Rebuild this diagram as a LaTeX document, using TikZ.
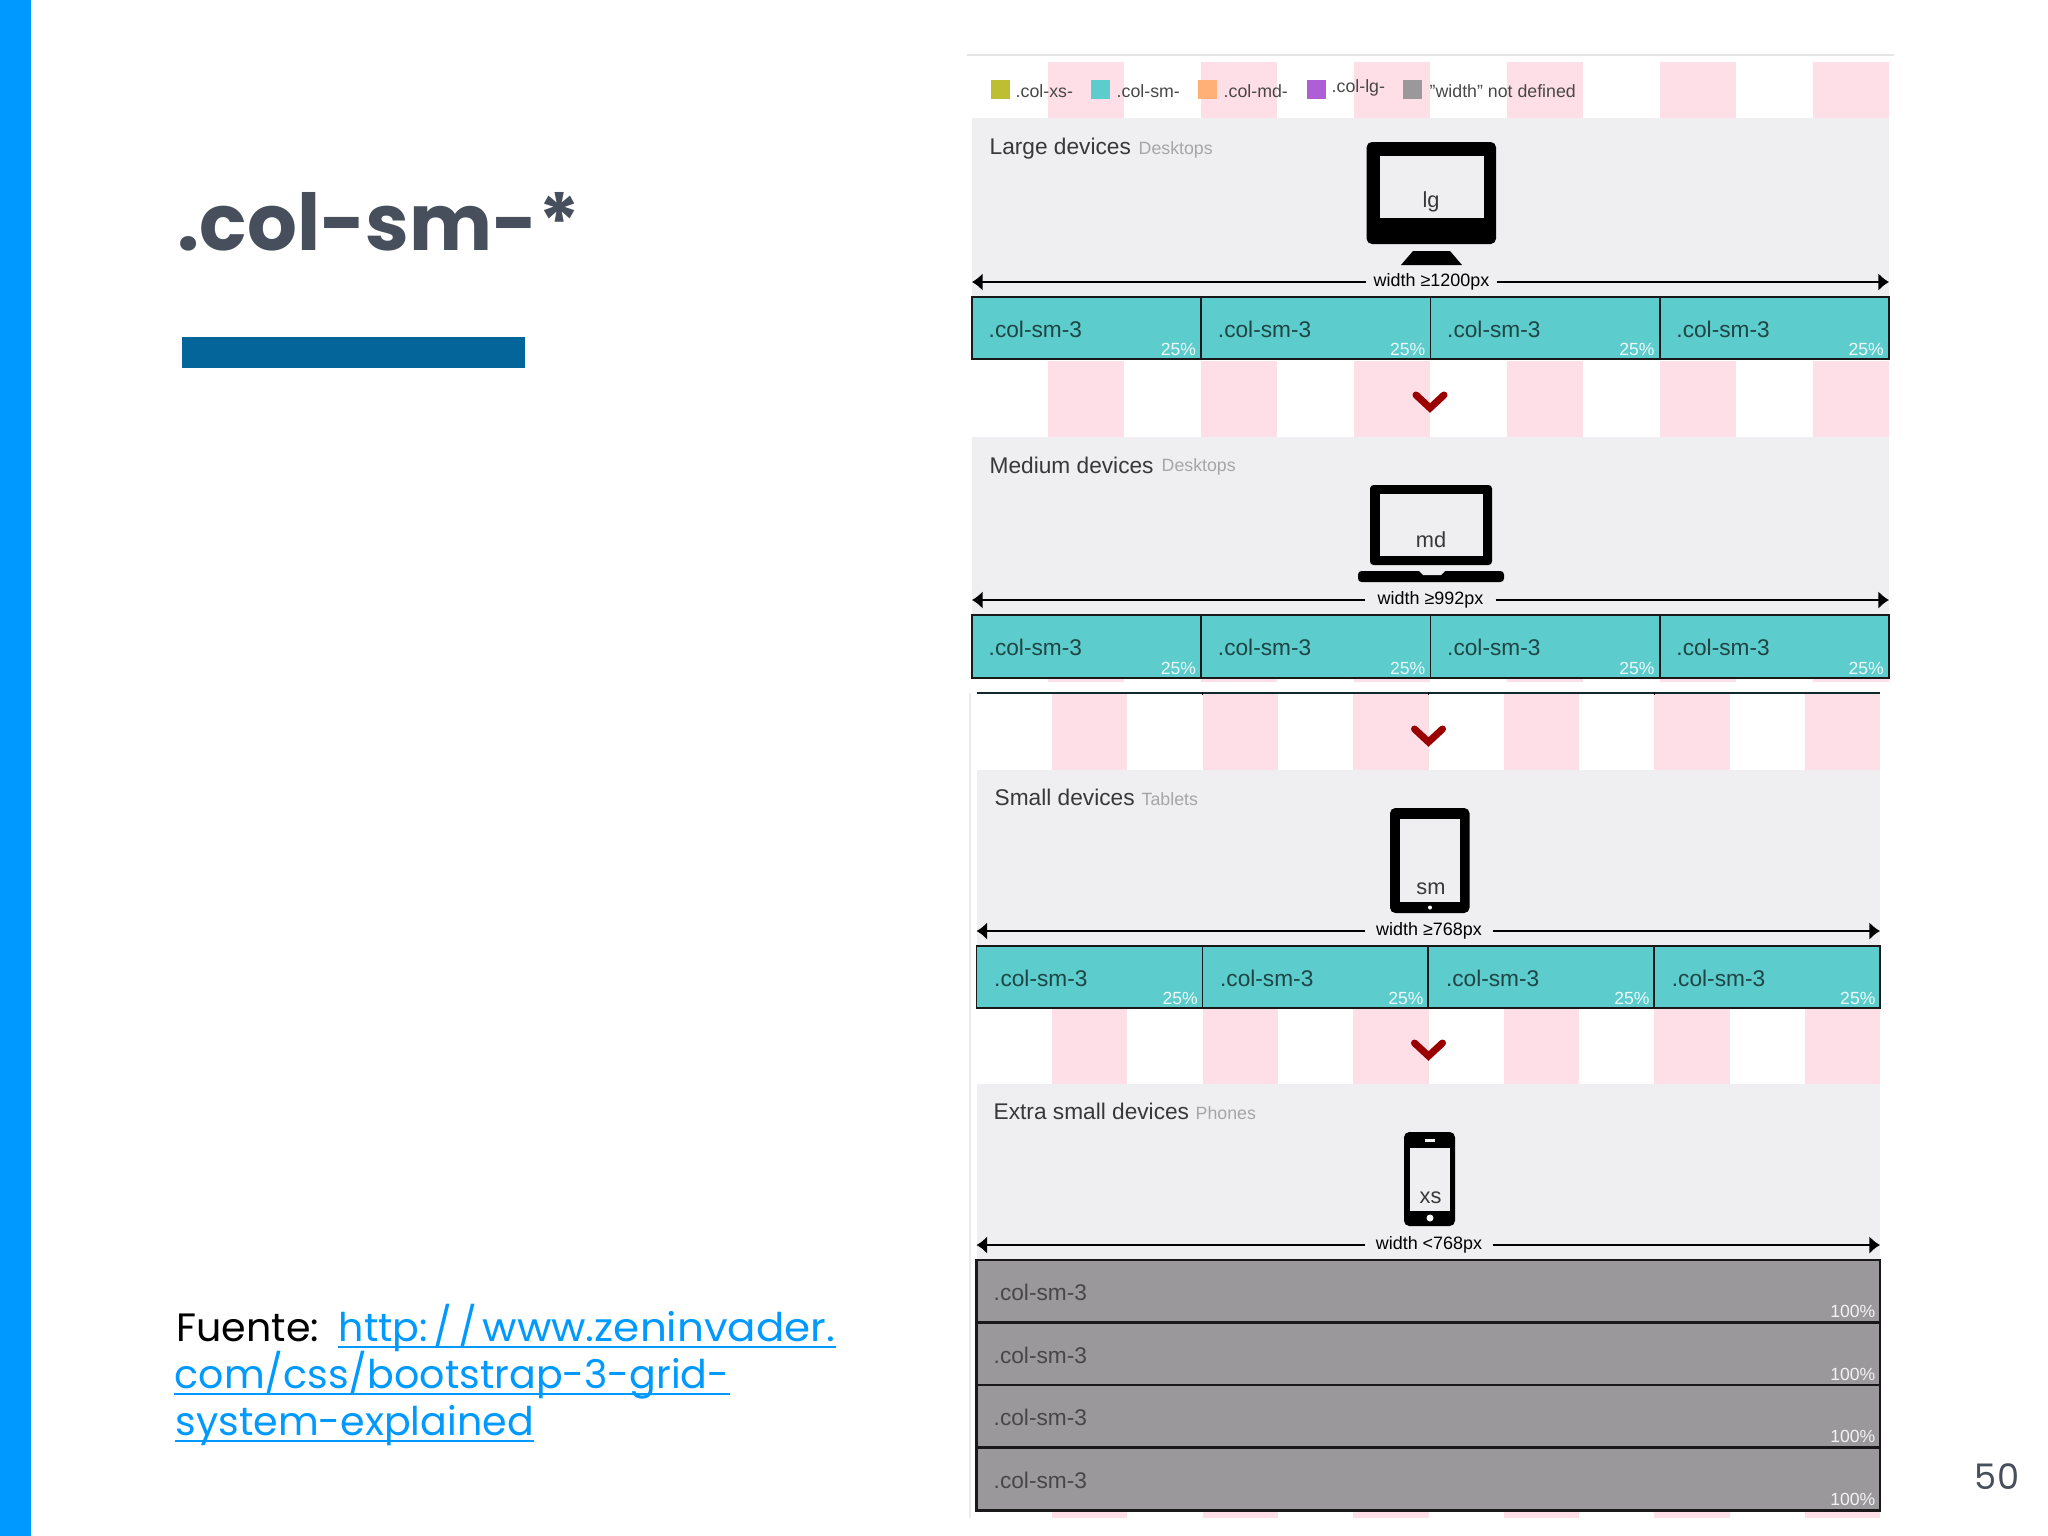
\documentclass[tikz,border=0pt]{standalone}
\usepackage{fontspec}
\usepackage{tikz}
\usetikzlibrary{calc,arrows.meta}
\setmainfont{Liberation Sans}
\newfontfamily\slidefont{Poppins}
\definecolor{sidebar}{HTML}{0099FF}
\definecolor{underbar}{HTML}{03659A}
\definecolor{slideink}{HTML}{474F5C}
\definecolor{stripe}{HTML}{FFDFE7}
\definecolor{panel}{HTML}{EFEEF0}
\definecolor{smteal}{HTML}{5CCCCC}
\definecolor{nogrey}{HTML}{9A989B}
\definecolor{chevred}{HTML}{9B0000}
\definecolor{xsolive}{HTML}{BEBE32}
\definecolor{mdorange}{HTML}{FFB077}
\definecolor{lgviolet}{HTML}{AF5FD6}
\newcommand{\pxfont}[1]{\fontsize{#1}{#1}\selectfont}

\begin{document}
\begin{tikzpicture}[x=0.01cm, y=-0.01cm,
    heading/.style = {anchor=west, inner sep=0, text=black!78, font=\pxfont{6.45}},
    subheading/.style = {anchor=west, inner sep=0, text=black!35, font=\pxfont{5.05}},
    legendtext/.style = {anchor=west, inner sep=0, text=black!72, font=\pxfont{5.05}},
    widthgap/.style = {inner sep=0, minimum height=6pt, font=\pxfont{5.1}},
    widthline/.style = {line width=0.55pt, -{Latex[length=3pt, width=5pt]}},
    colcell/.style = {draw=black!90, fill=smteal, line width=0.5pt, inner sep=0, outer sep=0, anchor=north west},
    greycell/.style = {colcell, fill=nogrey, line width=0.6pt},
    coltext/.style = {anchor=west, inner sep=0, font=\pxfont{6.45}},
    pcttext/.style = {anchor=east, inner sep=0, font=\pxfont{5}},
    devtext/.style = {inner sep=0, text=black!78, font=\pxfont{6.2}},
    linktext/.style = {anchor=base west, inner sep=0, text=sidebar, font=\slidefont\pxfont{11.25}}
  ]
  \useasboundingbox (0,0) rectangle (2048,1536);
  \fill [sidebar] (0,0) rectangle (31,1536);

  % stripes behind the panels
  \foreach \sx/\sp/\sw/\ya/\yb in {1047.6/153/76.5/62/118, 1047.6/153/76.5/361/437, 1047.6/153/76.5/679/682,
                                   1052/150.6/75.3/694/770, 1052/150.6/75.3/1009/1084, 1052/150.6/75.3/1511/1518}
    \foreach \i in {0,...,5}
      \fill [stripe] ({\sx+\i*\sp},\ya) rectangle ({\sx+\i*\sp+\sw},\yb);

  \fill [panel] (972,118) rectangle (1889,297);
  \fill [panel] (972,437) rectangle (1889,615);
  \fill [panel] (976.5,770) rectangle (1880,946);
  \fill [panel] (976.5,1084) rectangle (1880,1260);
  \draw [black!10, line width=0.5pt] (967,55) -- (1894,55);
  \draw [black!8, line width=0.4pt] (970,693) -- (970,1518);
  \draw [black!80!smteal, line width=0.55pt] (976.5,693) -- (1880,693);

  % legend
  \foreach \lx/\lc in {990.6/xsolive, 1091/smteal, 1198/mdorange, 1306.6/lgviolet, 1403/nogrey}
    \fill [\lc] (\lx,80) rectangle ++(19,19);
  \node [legendtext] (legxs) at (1015,91) {.col-xs-};
  \node [legendtext] (legsm) at (1116,91) {.col-sm-};
  \node [legendtext] (legmd) at (1223,91) {.col-md-};
  \node [legendtext] (leglg) at (1331,88) {.col-lg-};
  \node [legendtext] (legno) at (1429,91) {"width" not defined};

  % headings
  \node [heading] (lghead) at (989,149) {Large devices};
  \node [subheading] (lgsub) at (1138,150) {Desktops};
  \node [heading] (mdhead) at (989,465) {Medium devices};
  \node [subheading] (mdsub) at (1161,467) {Desktops};
  \node [heading] (smhead) at (994,797) {Small devices};
  \node [subheading] (smsub) at (1141,799) {Tablets};
  \node [heading] (xshead) at (993,1111) {Extra small devices};
  \node [subheading] (xssub) at (1195,1113) {Phones};

  % monitor
  \fill [black, rounded corners=1.5pt] (1366.6,142) rectangle (1496,244);
  \fill [panel] (1379.5,156) rectangle (1483.6,218);
  \fill [black] (1413,251) -- (1450,251) -- (1462,265) -- (1401,265) -- cycle;
  \node [devtext] (lgname) at (1431,202) {lg};
  % laptop
  \fill [black, rounded corners=1pt] (1370,485) rectangle (1492,565);
  \fill [panel] (1379.5,494) rectangle (1483,556);
  \fill [black, rounded corners=1pt] (1358,571) rectangle (1504,582);
  \fill [panel] (1418,570) -- (1446,570) -- (1441,575) -- (1423,575) -- cycle;
  \node [devtext] (mdname) at (1431,540) {md};
  % tablet
  \fill [black, rounded corners=1.5pt] (1390,808) rectangle (1469.5,913);
  \fill [panel] (1400,819) rectangle (1460,902);
  \fill [white] (1430,907.5) circle (2);
  \node [devtext] (smname) at (1431,889) {sm};
  % phone
  \fill [black, rounded corners=1.5pt] (1404,1132) rectangle (1455,1226);
  \fill [panel] (1410,1148) rectangle (1450,1211);
  \fill [panel] (1425,1139) rectangle (1435,1141.5);
  \fill [white] (1430,1218) circle (3.5);
  \node [devtext] (xsname) at (1430.5,1198) {xs};

  % width arrows
  \foreach \dv/\xa/\xb/\yy/\xm/\gw/\wt in {lg/972/1889/282/1431.5/129/{width ≥1200px},
                                           md/972/1889/600/1430.5/129/{width ≥992px},
                                           sm/976.5/1880/931/1429/127/{width ≥768px},
                                           xs/976.5/1880/1245/1429/126/{width <768px}} {
    \coordinate (\dv left) at (\xa,\yy);
    \coordinate (\dv right) at (\xb,\yy);
    \node [widthgap, minimum width=\gw*0.01cm] (\dv width) at (\xm,\yy) {\raisebox{0.8pt}{\wt}};
    \path
        (\dv width) edge [widthline] (\dv left)
        (\dv width) edge [widthline] (\dv right);
  }

  % teal rows
  \foreach \rw/\xa/\cw/\yt/\ch/\ox/\px in {lg/972/229.25/297/62/16/4.5, md/972/229.25/615/63/16/4.5, sm/976.5/225.9/946/62/17/4}
    \foreach \i in {0,...,3} {
      \node [colcell, minimum width=\cw*0.01cm, minimum height=\ch*0.01cm] (\rw-\i) at ({\xa+\i*\cw},\yt) {};
      \node [coltext, text=black!60!smteal!85!black] (\rw-\i-name) at ($(\rw-\i.west)+(\ox,1)$) {.col-sm-3};
      \node [pcttext, text=white!90!smteal] (\rw-\i-pct) at ($(\rw-\i.south east)+(-\px,-10)$) {25\%};
    }
  \foreach \tx in {1202.5,1428.5,1654.5}
    \draw [black, line width=0.4pt] (\tx,692) -- (\tx,695);

  % grey rows
  \foreach \i/\yt in {0/1260, 1/1323, 2/1385, 3/1448} {
    \node [greycell, minimum width=903.5*0.01cm, minimum height=62.5*0.01cm] (xs-\i) at (976.5,\yt) {};
    \node [coltext, text=black!72] (xs-\i-name) at ($(xs-\i.west)+(16.5,1)$) {.col-sm-3};
    \node [pcttext, text=white!88!nogrey] (xs-\i-pct) at ($(xs-\i.south east)+(-4,-11)$) {100\%};
  }

  % chevrons
  \foreach \cx/\cy in {1430/391, 1428.5/725, 1428.5/1039}
    \draw [chevred, line width=2pt, line cap=round, line join=miter] (\cx-14,\cy+4) -- (\cx,\cy+17) -- (\cx+14,\cy+4);

  % left column
  \node [anchor=base west, inner sep=0, text=slideink, font=\slidefont\bfseries\pxfont{22.3}] (title) at (177,250) {.col-sm-*};
  \fill [underbar] (181.5,337) rectangle (525,368);
  \node [anchor=base west, inner sep=0, font=\slidefont\pxfont{11.25}] (fuente) at (176,1341) {Fuente:};
  \node [linktext] (linka) at (338,1341) {http:\kern1.6pt/\kern1.6pt/\kern1.6pt{\addfontfeature{FakeStretch=1.063}www.zeninvader.}};
  \node [linktext] (linkb) at (174,1388) {com/css/bootstrap-3-grid-};
  \node [linktext] (linkc) at (175,1435) {system-explained};
  \foreach \lk in {linka,linkb,linkc}
    \draw [sidebar, line width=0.6pt] ($(\lk.base west)+(0,6)$) -- ($(\lk.base east)+(0,6)$);
  \node [inner sep=0, text=slideink, font=\slidefont\pxfont{10}] (pagenum) at (1997,1477) {50};
\end{tikzpicture}
\end{document}
